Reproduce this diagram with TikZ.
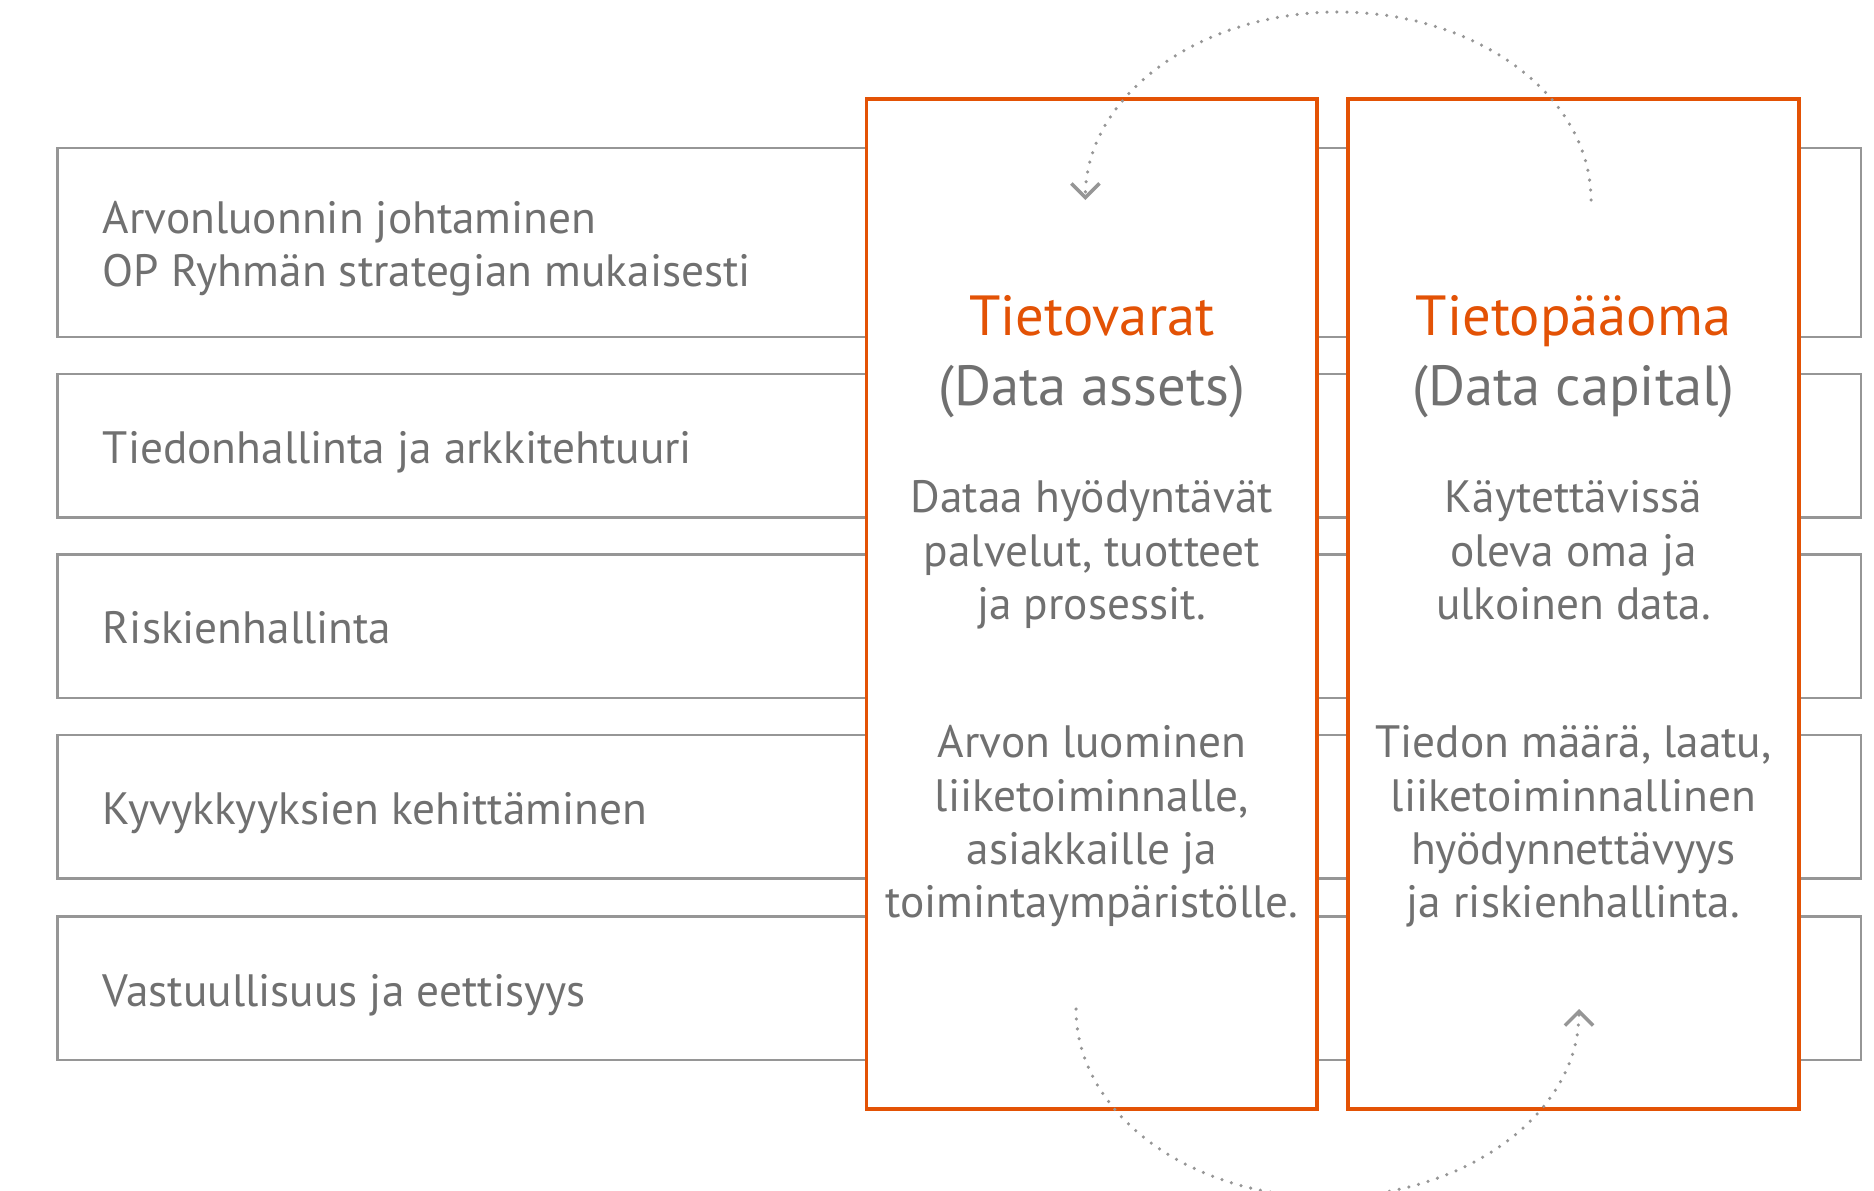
\documentclass[tikz,border=0pt]{standalone}
\usepackage{fontspec}
\setmainfont{PT Sans}
\usetikzlibrary{arrows.meta}
\definecolor{opor}{RGB}{227,82,5}
\definecolor{optxt}{RGB}{112,112,112}
\definecolor{opline}{RGB}{150,150,150}

\begin{document}
\begin{tikzpicture}[x=0.1mm, y=-0.1mm,
	every node/.style={font=\fontsize{12.9}{15.2}\selectfont, text=optxt},
	rowbox/.style={draw=opline, line width=0.7pt, minimum width=180.36mm, inner sep=0pt},
	col/.style={draw=opor, line width=1pt, fill=white, minimum width=45.06mm, minimum height=100.99mm, inner sep=0pt},
	head/.style={font=\fontsize{16.1}{19}\selectfont, anchor=base, inner sep=0pt},
	body/.style={align=center, anchor=north, inner sep=0pt},
	flow/.style={opline, line width=1pt, line cap=round, dash pattern=on 0pt off 2.84pt, -{Straight Barb[length=4pt, width=8pt]}}]
	\useasboundingbox (0,0) rectangle (1874,1191);
	\clip (0,0) rectangle (1874,1191);
	% rows behind the two columns
	\foreach \n/\y/\h/\txt in {1/242.6/18.88/{\strut Arvonluonnin johtaminen\\\strut OP Ryhmän strategian mukaisesti}, 2/445.8/14.34/{\strut Tiedonhallinta ja arkkitehtuuri}, 3/626.3/14.34/{\strut Riskienhallinta}, 4/806.7/14.35/{\strut Kyvykkyyksien kehittäminen}, 5/988.4/14.34/{\strut Vastuullisuus ja eettisyys}} {
		\node[rowbox, minimum height=\h mm] (r\n) at (959.2,\y) {};
		\node[anchor=west, align=left, inner sep=0pt] (t\n) at ([xshift=4.6mm, yshift=-0.7mm]r\n.west) {\txt};
	}
	\node[col] (colA) at (1091.8,604.15) {};
	\node[col] (colB) at (1573.5,604.15) {};
	% column texts
	\node[head, text=opor] (hA) at (1091.8,335) {Tietovarat};
	\node[head] (sA) at (1091.8,405) {(Data assets)};
	\node[head, text=opor] (hB) at (1573.5,335) {Tietopääoma};
	\node[head] (sB) at (1573.5,405) {(Data capital)};
	\node[body] (bA1) at (1091.8,474.6) {\strut Dataa hyödyntävät\\\strut palvelut, tuotteet\\\strut ja prosessit.};
	\node[body] (bA2) at (1091.8,719.6) {\strut Arvon luominen\\\strut liiketoiminnalle,\\\strut asiakkaille ja\\\strut toimintaympäristölle.};
	\node[body] (bB1) at (1573.5,474.6) {\strut Käytettävissä\\\strut oleva oma ja\\\strut ulkoinen data.};
	\node[body] (bB2) at (1573.5,719.6) {\strut Tiedon määrä, laatu,\\\strut liiketoiminnallinen\\\strut hyödynnettävyys\\\strut ja riskienhallinta.};
	% cycle arrows
	\coordinate (topS) at (1591,200);
	\coordinate (botS) at (1076,1009);
	\draw[flow] (topS) arc[start angle=0, end angle=-180, x radius=252.8, y radius=188];
	\draw[flow] (botS) arc[start angle=180, end angle=0, x radius=251.5, y radius=188];
\end{tikzpicture}
\end{document}
